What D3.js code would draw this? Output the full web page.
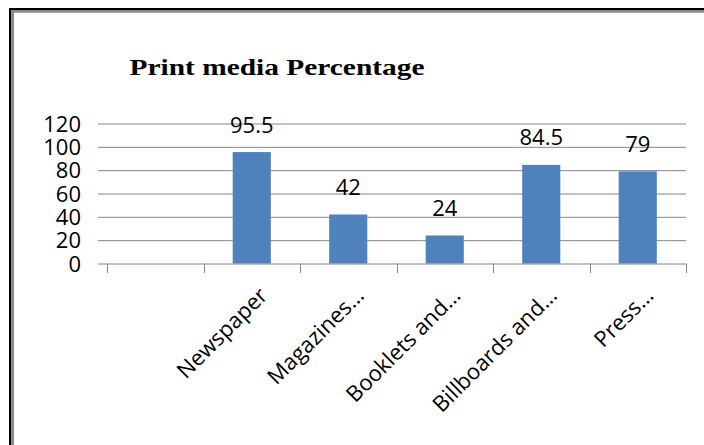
<!DOCTYPE html>
<html>
<head>
<meta charset="utf-8">
<script src="https://cdn.jsdelivr.net/npm/d3@7"></script>
<style>
  html, body { margin: 0; padding: 0; background: #fff; }
  svg { display: block; }
</style>
</head>
<body>
<script>
// Print media survey: share of respondents per medium (%)
const categories = ["", "Newspaper", "Magazines…", "Booklets and…", "Billboards and…", "Press…"];
const values = [null, 95.5, 42, 24, 84.5, 79];
const yTicks = [0, 20, 40, 60, 80, 100, 120];
const title = "Print media Percentage";

const W = 704, H = 445;
const plot = { left: 107, right: 686, top: 123.5, bottom: 263.5 };
const gridStart = 98;
const axisColor = "#868686";
const barColor = "#4F81BD";
const font = "'Open Sans', sans-serif";

const svg = d3.select("body").append("svg")
  .attr("width", W).attr("height", H);

svg.append("rect").attr("width", W).attr("height", H).attr("fill", "#fff");

// Frame: dark outer edge with a grey inner edge (top and left)
svg.append("rect").attr("x", 9).attr("y", 8).attr("width", 2).attr("height", H - 8).attr("fill", "#000");
svg.append("rect").attr("x", 9).attr("y", 8).attr("width", W - 9).attr("height", 2).attr("fill", "#000");
svg.append("rect").attr("x", 11).attr("y", 10).attr("width", 3).attr("height", H - 10).attr("fill", "#8a8a8a");
svg.append("rect").attr("x", 11).attr("y", 10).attr("width", W - 11).attr("height", 2.7).attr("fill", "#8a8a8a");

// Title
svg.append("text")
  .attr("x", 129.5).attr("y", 75)
  .attr("font-family", "'Liberation Serif', 'Times New Roman', serif")
  .attr("font-weight", "bold")
  .attr("font-size", 23)
  .attr("textLength", 295)
  .attr("lengthAdjust", "spacingAndGlyphs")
  .attr("fill", "#000")
  .text(title);

const x = d3.scaleBand()
  .domain(d3.range(categories.length))
  .range([plot.left, plot.right])
  .padding(0);

const y = d3.scaleLinear()
  .domain([0, 120])
  .range([plot.bottom, plot.top]);

// Horizontal gridlines + value axis labels
const yAxis = d3.axisLeft(y)
  .tickValues(yTicks)
  .tickSize(-(plot.right - gridStart))
  .tickPadding(17)
  .tickFormat(d3.format("d"));

const gy = svg.append("g")
  .attr("transform", `translate(${gridStart},0)`)
  .call(yAxis);
gy.select(".domain").remove();
gy.selectAll(".tick line").attr("stroke", axisColor).attr("stroke-width", 1);
gy.selectAll(".tick text")
  .attr("font-family", font)
  .attr("font-size", 22)
  .attr("fill", "#000")
  .attr("dy", "0.35em");

// Category tick marks on the baseline at band boundaries
const bounds = categories.map((c, i) => x(i)).concat([x.range()[1]]);
svg.append("g").selectAll("line")
  .data(bounds)
  .join("line")
  .attr("x1", d => Math.round(d) + 0.5)
  .attr("x2", d => Math.round(d) + 0.5)
  .attr("y1", y(0))
  .attr("y2", y(0) + 9.5)
  .attr("stroke", axisColor)
  .attr("stroke-width", 1);

// Bars
const barW = x.bandwidth() * 0.395;
const data = categories.map((c, i) => ({ i, c, v: values[i] })).filter(d => d.v != null);

svg.append("g").selectAll("rect")
  .data(data)
  .join("rect")
  .attr("x", d => x(d.i) + (x.bandwidth() - barW) / 2)
  .attr("y", d => y(d.v))
  .attr("width", barW)
  .attr("height", d => y(0) - y(d.v))
  .attr("fill", barColor);

// Value labels above bars
svg.append("g").selectAll("text")
  .data(data)
  .join("text")
  .attr("x", d => x(d.i) + x.bandwidth() / 2)
  .attr("y", d => y(d.v) - 19.5)
  .attr("text-anchor", "middle")
  .attr("font-family", font)
  .attr("font-size", 22)
  .attr("fill", "#000")
  .text(d => d.v);

// Rotated category labels
svg.append("g").selectAll("text")
  .data(categories.map((c, i) => ({ i, c })).filter(d => d.c))
  .join("text")
  .attr("transform", d => `translate(${x(d.i) + x.bandwidth() / 2 + 17},${297}) rotate(-45)`)
  .attr("text-anchor", "end")
  .attr("font-family", font)
  .attr("font-size", 22)
  .attr("fill", "#000")
  .text(d => d.c);
</script>
</body>
</html>
